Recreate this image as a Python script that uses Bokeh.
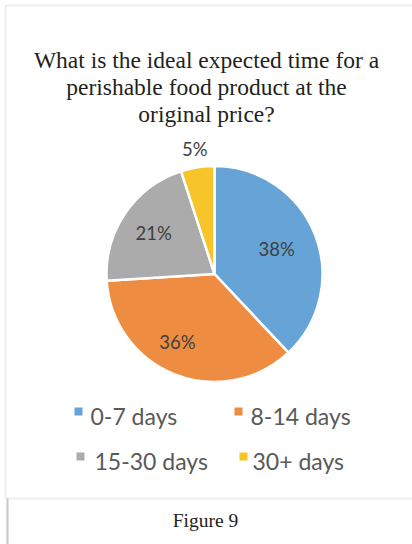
import numpy as np
from bokeh.plotting import figure
from bokeh.models import Range1d, BoxAnnotation
from bokeh.core.properties import value
from bokeh.embed import file_html
from bokeh.resources import INLINE

# ---- data ----
categories = ["0-7 days", "8-14 days", "15-30 days", "30+ days"]
shares = [38, 36, 21, 5]
colors = ["#66A3D7", "#EE8D42", "#ABABAB", "#F7C52A"]
title_lines = ["What is the ideal expected time for a",
               "perishable food product at the",
               "original price?"]
caption = "Figure 9"

W, H = 412, 544
def Y(py):
    return H - py

p = figure(width=W, height=H, output_backend="svg", toolbar_location=None,
           x_range=Range1d(0, W), y_range=Range1d(0, H), min_border=0)
p.axis.visible = False
p.grid.visible = False
p.outline_line_color = None
p.background_fill_color = "white"
p.border_fill_color = "white"

# frame borders
p.add_layout(BoxAnnotation(left=5, right=430, bottom=Y(498), top=Y(5),
                           fill_alpha=0, line_color="#c8c8c8", line_width=2))
p.line([7, 7], [Y(498), Y(560)], line_color="#c8c8c8", line_width=2)

# title
ty = [59, 86, 113]
p.text(x=[206] * 3, y=[Y(v) for v in ty], text=title_lines,
       text_font=value("Liberation Serif"), text_font_size="23.5px",
       text_color="#231f20", text_align="center", text_baseline="middle")

# pie
cx, cy, R = 214, 273.5, 108
vals = np.array(shares, dtype=float)
frac = vals / vals.sum()
cum = np.concatenate([[0], np.cumsum(frac)])
start = np.pi / 2 - 2 * np.pi * cum[:-1]
end = np.pi / 2 - 2 * np.pi * cum[1:]
p.wedge(x=cx, y=Y(cy), radius=R, radius_units="screen",
        start_angle=list(start), end_angle=list(end), direction="clock",
        fill_color=colors, line_color="white", line_width=2.5)

# data labels
mid = (start + end) / 2
lab_r = np.array([0.62, 0.68, 0.68, 1.17]) * R
lx = cx + lab_r * np.cos(mid)
ly = cy - lab_r * np.sin(mid)
lx[1] -= 10
p.text(x=list(lx), y=[Y(v) for v in ly], text=[f"{s}%" for s in shares],
       text_font=value("Lato"), text_font_size="18.5px", text_color="#404040",
       text_align="center", text_baseline="middle")

# legend
sq_x = [78, 238, 80, 243]
tx_x = [90, 250, 94, 252]
row_y = [415, 415, 460, 460]
p.rect(x=sq_x, y=[Y(v - 4) for v in row_y], width=8, height=8,
       width_units="screen", height_units="screen",
       fill_color=colors, line_color=None)
p.text(x=tx_x, y=[Y(v) for v in row_y], text=categories,
       text_font=value("Lato"), text_font_size="23px", text_color="#595959",
       text_align="left", text_baseline="middle")

# caption
p.text(x=[205], y=[Y(520)], text=[caption],
       text_font=value("Liberation Serif"), text_font_size="19.5px",
       text_color="#231f20", text_align="center", text_baseline="middle")

open("out.html", "w").write(file_html(p, INLINE))
